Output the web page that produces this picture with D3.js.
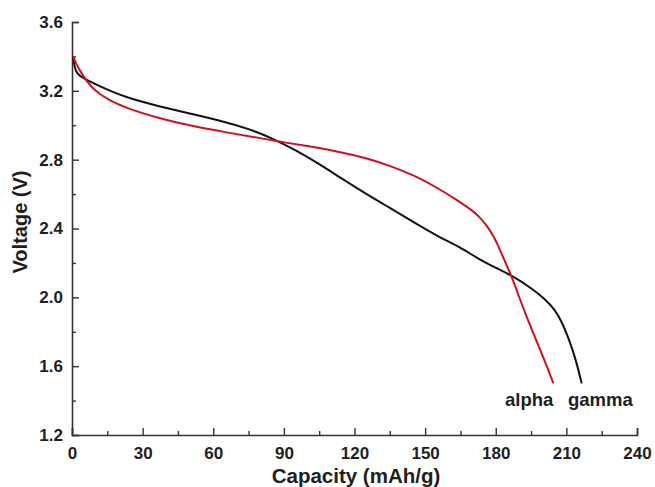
<!DOCTYPE html>
<html lang="en">
<head>
<meta charset="utf-8">
<script src="https://d3js.org/d3.v7.min.js"></script>
<style>
body { margin: 0; background: #fff; }
text { font-family: "Liberation Sans", Arial, sans-serif; font-weight: bold; fill: #1e1e1e; }
</style>
</head>
<body>
<script>
// capacity (mAh/g), voltage (V)
var gammaCap = [0.5, 1, 2, 5, 12, 23, 37, 51, 65, 75, 85, 95, 105, 114, 125, 135, 146, 156, 165, 173, 181, 187, 195, 201, 205, 208, 211, 214, 216.5];
var gammaV   = [3.40, 3.34, 3.30, 3.27, 3.225, 3.16, 3.11, 3.065, 3.02, 2.98, 2.925, 2.855, 2.775, 2.695, 2.60, 2.52, 2.43, 2.35, 2.29, 2.22, 2.165, 2.125, 2.055, 1.99, 1.93, 1.86, 1.76, 1.64, 1.50];
var alphaCap = [0.5, 2, 3.5, 6, 9, 15, 23, 37, 51, 65, 80, 90, 100, 114, 125, 135, 146, 156, 163, 169, 173, 176, 179, 182, 184.5, 186.5, 190, 193, 196, 199, 202, 204.5];
var alphaV   = [3.40, 3.35, 3.315, 3.26, 3.21, 3.15, 3.10, 3.04, 2.995, 2.96, 2.925, 2.90, 2.88, 2.845, 2.81, 2.765, 2.705, 2.63, 2.57, 2.515, 2.47, 2.42, 2.36, 2.27, 2.19, 2.13, 2.00, 1.89, 1.79, 1.69, 1.59, 1.50];
var xTicks = [0, 30, 60, 90, 120, 150, 180, 210, 240];
var yTicks = [1.2, 1.6, 2.0, 2.4, 2.8, 3.2, 3.6];

var width = 655, height = 487;
var margin = {left: 72, right: 18, top: 22, bottom: 52};

var svg = d3.select("body").append("svg")
    .attr("width", width)
    .attr("height", height);

var x = d3.scaleLinear().domain([0, 240]).range([margin.left, width - margin.right]);
var y = d3.scaleLinear().domain([1.2, 3.6]).range([height - margin.bottom, margin.top]);

// minor ticks half way between labels
var xMinor = d3.range(15, 240, 30);
var yMinor = d3.range(1.4, 3.6, 0.4);

svg.append("g")
    .attr("transform", "translate(0," + y(1.2) + ")")
    .call(d3.axisBottom(x).tickValues(xTicks).tickSize(-7).tickPadding(12).tickFormat(d3.format("d")));
svg.append("g")
    .attr("transform", "translate(0," + y(1.2) + ")")
    .call(d3.axisBottom(x).tickValues(xMinor).tickSize(-4).tickFormat(""))
    .select(".domain").remove();

svg.append("g")
    .attr("transform", "translate(" + x(0) + ",0)")
    .call(d3.axisLeft(y).tickValues(yTicks).tickSize(-7).tickPadding(9).tickFormat(d3.format(".1f")));
svg.append("g")
    .attr("transform", "translate(" + x(0) + ",0)")
    .call(d3.axisLeft(y).tickValues(yMinor).tickSize(-4).tickFormat(""))
    .select(".domain").remove();

svg.selectAll(".domain").attr("stroke", "#333").attr("stroke-width", 1.6);
svg.selectAll(".tick line").attr("stroke", "#333").attr("stroke-width", 1.4);
svg.selectAll(".tick text").style("font-size", "17px").attr("fill", "#1e1e1e");

var line = d3.line()
    .x(function(d) { return x(d[0]); })
    .y(function(d) { return y(d[1]); })
    .curve(d3.curveBasis);

var gamma = gammaCap.map(function(c, i) { return [c, gammaV[i]]; });
var alpha = alphaCap.map(function(c, i) { return [c, alphaV[i]]; });

svg.append("path").datum(gamma)
    .attr("d", line).attr("fill", "none")
    .attr("stroke", "#111").attr("stroke-width", 2);
svg.append("path").datum(alpha)
    .attr("d", line).attr("fill", "none")
    .attr("stroke", "#d0101e").attr("stroke-width", 2);

// curve labels
svg.append("text").attr("x", 505).attr("y", 406)
    .style("font-size", "18.5px").text("alpha");
svg.append("text").attr("x", 568).attr("y", 406)
    .style("font-size", "18.5px").text("gamma");

// axis titles
svg.append("text")
    .attr("x", 356).attr("y", 483)
    .attr("text-anchor", "middle").style("font-size", "20.5px")
    .text("Capacity (mAh/g)");
svg.append("text")
    .attr("transform", "translate(27,222) rotate(-90)")
    .attr("text-anchor", "middle").style("font-size", "20px")
    .text("Voltage (V)");
</script>
</body>
</html>
